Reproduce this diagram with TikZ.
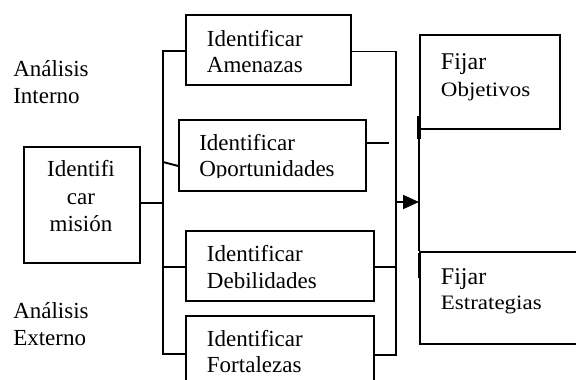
\documentclass[tikz,border=0pt]{standalone}
\usepackage{fontspec}
\setmainfont{Liberation Serif}
\newfontfamily\stretchfont[FakeStretch=1.12]{Liberation Serif}
\usetikzlibrary{arrows.meta,calc}
\begin{document}
\begin{tikzpicture}[x=1pt,y=-1pt,line width=1.9pt,
  box/.style={draw,line width=1.9pt,inner sep=0pt,anchor=north west},
  txt/.style={anchor=base west,inner sep=0pt,text width=220pt,align=left,font=\fontsize{23}{26.7}\selectfont},
  ctxt/.style={anchor=base,inner sep=0pt,text width=116pt,align=center,font=\fontsize{23}{27.5}\selectfont},
  fix/.style={anchor=base west,inner sep=0pt,text width=150pt,align=left}]
\useasboundingbox (0,0) rectangle (576,380);
\clip (0,0) rectangle (576,380);

% side labels
\node[txt,font=\fontsize{23}{27.3}\selectfont] (interno) at (12.3,76) {Análisis\\Interno};
\node[txt,font=\fontsize{23}{26.8}\selectfont] (externo) at (12.3,318.3) {Análisis\\Externo};

% mission box
\node[box,minimum width=116.6pt,minimum height=116pt] (mis) at (22.7,145.7) {};
\node[ctxt] (tmis) at (81,176.7) {Identifi\\car\\misión};

% identify boxes
\node[box,minimum width=165pt,minimum height=70pt] (amen) at (185,14) {};
\node[txt] (tamen) at (206,46) {Identificar\\Amenazas};

\node[box,minimum width=187pt,minimum height=70.7pt] (oport) at (178.3,119.3) {};
\begin{scope}
  \clip (179,120) rectangle (365,177.8);
  \node[txt] (toport) at (198.3,150) {Identificar\\Oportunidades};
\end{scope}

\node[box,minimum width=187.7pt,minimum height=70pt] (deb) at (185,230) {};
\node[txt] (tdeb) at (206,261.7) {Identificar\\Debilidades};

\node[box,minimum width=187.7pt,minimum height=90pt] (fort) at (185,315) {};
\node[txt] (tfort) at (206,346) {Identificar\\Fortalezas};

% fix boxes
\node[box,minimum width=140.3pt,minimum height=94.3pt] (obj) at (419,34) {};
\node[fix,font=\fontsize{24}{27.4}\selectfont] (tobj) at (440,69.3) {Fijar\\{\stretchfont\fontsize{20.5}{27.4}\selectfont Objetivos}};

\node[box,minimum width=190pt,minimum height=92.6pt] (estr) at (419,250.7) {};
\node[fix,font=\fontsize{24}{25.3}\selectfont] (testr) at (440,284) {Fijar\\{\stretchfont\fontsize{20.5}{25.3}\selectfont Estrategias}};

% left bracket
\coordinate (lt) at (163,51);
\coordinate (lb) at (163,354);
\coordinate (lm) at (163,203.3);
\coordinate (lo) at (163,162);
\coordinate (ld) at (163,267.3);
\draw (lt -| amen.west) -- (lt) -- (lb) -- (lb -| fort.west);
\draw (mis.east |- lm) -- (lm);
\draw (lo) -- (oport.west |- 0,166);
\draw (ld) -- (ld -| deb.west);

% right bracket
\coordinate (rt) at (396,51.5);
\coordinate (rb) at (396,355);
\coordinate (rd) at (396,267.3);
\coordinate (ra) at (396,202);
\coordinate (oend) at (389,142.7);
\draw (rt -| amen.east) -- (rt) -- (rb) -- (rb -| fort.east);
\draw (rd -| deb.east) -- (rd);
\draw (oend -| oport.east) -- (oend);
\draw[-{Triangle[length=16pt,width=14pt]}] (ra) -- (ra -| obj.west);

% link between fix boxes
\draw (obj.south west) -- (estr.north west);
\draw[line width=3.2pt] (419,116) -- (419,139.3);
\draw[line width=2.8pt] (419,252.7) -- (419,278);
\end{tikzpicture}
\end{document}
